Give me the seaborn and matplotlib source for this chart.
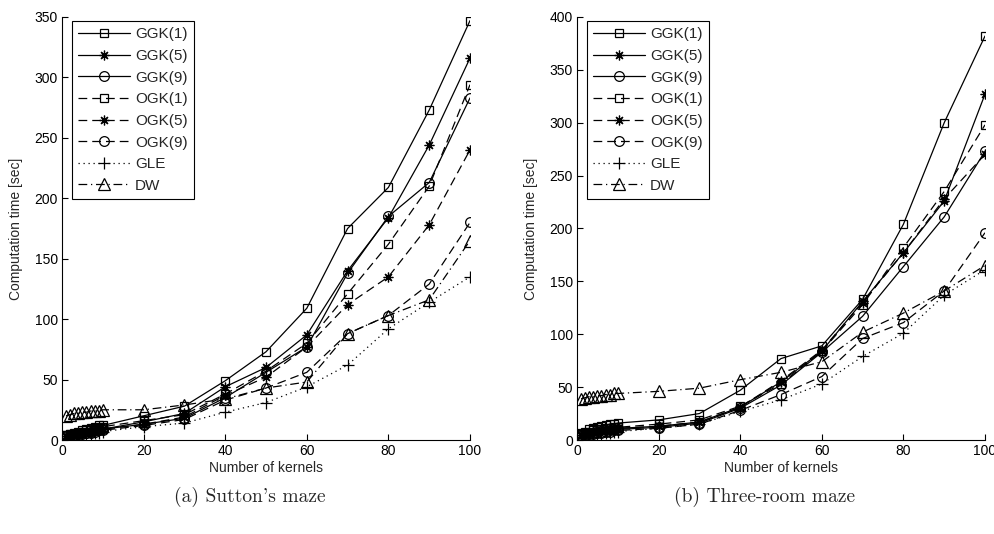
import matplotlib
matplotlib.use("Agg")
import matplotlib.pyplot as plt
import seaborn as sns
import pandas as pd

kernels = [1, 2, 3, 4, 5, 6, 7, 8, 9, 10, 20, 30, 40, 50, 60, 70, 80, 90, 100]
series_names = ["GGK(1)", "GGK(5)", "GGK(9)", "OGK(1)", "OGK(5)", "OGK(9)", "GLE", "DW"]

# (a) Sutton's maze
sutton_ggk1 = [4, 5, 6, 7, 8, 9, 10, 11, 12, 12, 20, 28, 49, 73, 109, 175, 209, 273, 347]
sutton_ggk5 = [3, 4, 5, 5, 6, 7, 7, 8, 9, 9, 15, 22, 44, 60, 87, 140, 184, 244, 316]
sutton_ggk9 = [3, 4, 4, 5, 6, 6, 7, 8, 8, 9, 13, 18, 35, 56, 77, 138, 185, 213, 283]
sutton_ogk1 = [4, 5, 5, 6, 7, 8, 8, 9, 10, 11, 16, 21, 38, 57, 80, 121, 162, 210, 294]
sutton_ogk5 = [3, 4, 4, 5, 6, 6, 7, 7, 8, 9, 13, 19, 37, 52, 77, 112, 135, 178, 240]
sutton_ogk9 = [3, 3, 4, 5, 5, 6, 6, 7, 8, 8, 12, 17, 33, 43, 56, 88, 103, 129, 180]
sutton_gle = [2, 3, 3, 4, 4, 5, 5, 6, 6, 7, 11, 14, 23, 31, 44, 62, 92, 114, 135]
sutton_dw = [20, 21, 22, 22, 23, 23, 24, 24, 24, 25, 25, 29, 34, 43, 48, 88, 103, 116, 165]

# (b) Three-room maze
three_ggk1 = [7, 8, 10, 11, 12, 13, 14, 15, 15, 16, 19, 25, 47, 77, 89, 133, 204, 300, 382]
three_ggk5 = [5, 6, 7, 8, 8, 9, 9, 10, 10, 11, 13, 17, 31, 55, 84, 131, 177, 226, 327]
three_ggk9 = [5, 6, 7, 7, 8, 8, 9, 9, 10, 10, 12, 16, 30, 52, 83, 117, 164, 211, 273]
three_ogk1 = [6, 7, 8, 9, 10, 10, 11, 11, 12, 12, 15, 19, 32, 53, 84, 128, 182, 235, 298]
three_ogk5 = [5, 6, 7, 8, 8, 9, 9, 10, 10, 11, 13, 17, 31, 56, 85, 130, 177, 228, 270]
three_ogk9 = [4, 5, 6, 6, 7, 7, 8, 8, 9, 9, 11, 15, 28, 43, 60, 96, 111, 141, 196]
three_gle = [3, 4, 5, 5, 6, 6, 7, 7, 8, 8, 11, 15, 27, 38, 53, 79, 101, 137, 161]
three_dw = [39, 40, 41, 41, 42, 42, 43, 43, 44, 44, 46, 49, 57, 64, 74, 102, 120, 141, 165]

sutton = [sutton_ggk1, sutton_ggk5, sutton_ggk9, sutton_ogk1, sutton_ogk5, sutton_ogk9, sutton_gle, sutton_dw]
three = [three_ggk1, three_ggk5, three_ggk9, three_ogk1, three_ogk5, three_ogk9, three_gle, three_dw]

markers = ["s", (8, 2, 0), "o", "s", (8, 2, 0), "o", "+", "^"]
linestyles = ["-", "-", "-", (0, (7, 4)), (0, (7, 4)), (0, (7, 4)), (0, (1, 3)), (0, (7, 3, 1, 3))]
msizes = [6, 7, 7, 6, 7, 7, 8, 8]

sns.set_theme(style="ticks")
plt.rcParams["font.family"] = ["Liberation Sans Narrow", "Liberation Sans", "DejaVu Sans"]

fig = plt.figure(figsize=(9.94, 5.34), dpi=100)
W, H = 994, 534
axes = [
    fig.add_axes([62 / W, (H - 440) / H, 408 / W, 423 / H]),
    fig.add_axes([577 / W, (H - 440) / H, 408 / W, 423 / H]),
]
datasets = [sutton, three]
ylims = [350, 400]
captions = ["(a) Sutton's maze", "(b) Three-room maze"]

for ax, data, ymax, cap in zip(axes, datasets, ylims, captions):
    for name, vals, mk, ls, ms in zip(series_names, data, markers, linestyles, msizes):
        df = pd.DataFrame({"k": kernels, "t": vals})
        sns.lineplot(data=df, x="k", y="t", ax=ax, color="black", linestyle=ls,
                     marker=mk, markersize=ms, markerfacecolor="none",
                     markeredgecolor="black", markeredgewidth=0.9, linewidth=0.9,
                     label=name)
    ax.set_xlim(0, 100)
    ax.set_ylim(0, ymax)
    ax.set_xticks(range(0, 101, 20))
    ax.set_yticks(range(0, ymax + 1, 50))
    ax.tick_params(direction="in", length=4, width=0.8, labelsize=10, pad=3, colors="black")
    for sp in ["top", "right"]:
        ax.spines[sp].set_visible(False)
    for sp in ["left", "bottom"]:
        ax.spines[sp].set_linewidth(0.8)
        ax.spines[sp].set_color("black")
    ax.set_xlabel("Number of kernels", fontsize=10, labelpad=2)
    ax.set_ylabel("Computation time [sec]", fontsize=10, labelpad=8)
    leg = ax.legend(loc="upper left", bbox_to_anchor=(0.025, 0.99), fontsize=11,
                    handlelength=3.4, handletextpad=0.3, borderpad=0.4,
                    labelspacing=0.5, fancybox=False, framealpha=1,
                    edgecolor="black", borderaxespad=0.0)
    leg.get_frame().set_linewidth(0.8)
    bb = ax.get_position()
    fig.text(bb.x0 + bb.width * 0.46, (H - 497) / H, cap, ha="center", va="center",
             fontsize=14, family=["cmr10", "DejaVu Serif"])

fig.savefig("out.png", dpi=100)
